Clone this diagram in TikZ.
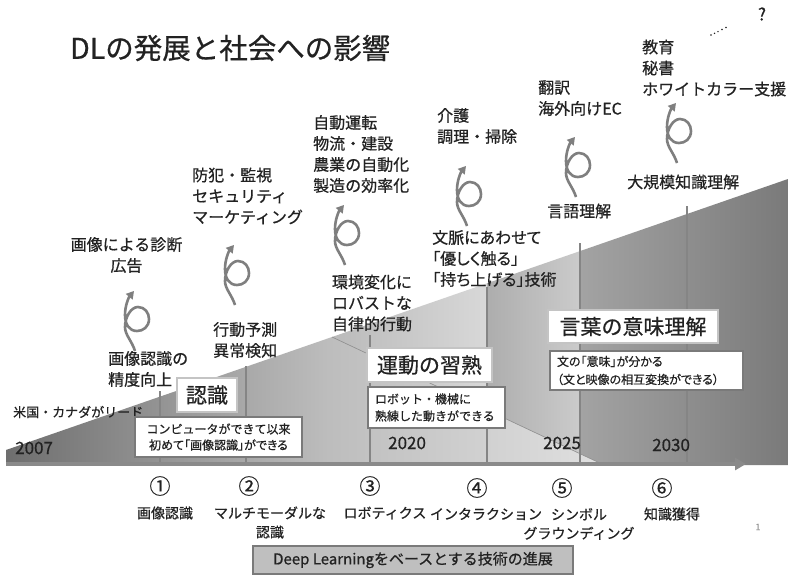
\documentclass[tikz,border=0pt]{standalone}
\usepackage{fontspec}
\setmainfont{Noto Sans CJK JP}[UprightFeatures={FakeBold=0.6}]
\newfontfamily\pfont{Noto Sans CJK JP}[RawFeature=+palt,UprightFeatures={FakeBold=0.6}]
\usetikzlibrary{arrows.meta}
\definecolor{txt}{HTML}{222222}
\definecolor{tickcol}{HTML}{858585}
\definecolor{axiscol}{HTML}{8A8A8A}
\definecolor{spircol}{HTML}{7F7F7F}
\definecolor{tboxcol}{HTML}{C4C4C4}
\definecolor{dboxcol}{HTML}{7A7A7A}
\definecolor{dlfill}{HTML}{BFBFBF}
\definecolor{edgecol}{HTML}{8C8C8C}
\definecolor{cAa}{HTML}{6E6E6E}
\definecolor{cAb}{HTML}{BDBDBD}
\definecolor{cAc}{HTML}{E0E0E0}
\definecolor{cBa}{HTML}{BABABA}
\definecolor{cBb}{HTML}{D8D8D8}
\definecolor{cCa}{HTML}{ADADAD}
\definecolor{cCb}{HTML}{CBCBCB}
\definecolor{cDa}{HTML}{A3A3A3}
\definecolor{cDb}{HTML}{7A7A7A}
\pgfdeclarehorizontalshading{shA}{100bp}{color(0bp)=(cAa); color(25bp)=(cAa); color(52bp)=(cAb); color(75bp)=(cAc); color(100bp)=(cAc)}
\pgfdeclarehorizontalshading{shB}{100bp}{color(0bp)=(cBa); color(25bp)=(cBa); color(75bp)=(cBb); color(100bp)=(cBb)}
\pgfdeclarehorizontalshading{shC}{100bp}{color(0bp)=(cCa); color(25bp)=(cCa); color(75bp)=(cCb); color(100bp)=(cCb)}
\pgfdeclarehorizontalshading{shD}{100bp}{color(0bp)=(cDa); color(25bp)=(cDa); color(75bp)=(cDb); color(100bp)=(cDb)}
\begin{document}
\begin{tikzpicture}[x=1pt,y=-1pt,
  lbl/.style={text=txt, inner sep=0pt},
  big/.style={lbl, font=\fontsize{16}{21}\selectfont},
  bot/.style={lbl, font=\fontsize{14}{19}\selectfont},
  num/.style={lbl, font=\fontsize{21}{22}\selectfont},
  yr/.style={lbl, font=\fontsize{17}{19}\selectfont, anchor=west},
  tbox/.style={draw=tboxcol, line width=2pt, fill=white, text=txt, inner sep=0pt, font=\fontsize{21}{24}\selectfont},
  dbox/.style={draw=dboxcol, line width=1.6pt, fill=white, text=txt, inner sep=0pt, font=\fontsize{12}{16}\selectfont},
  tickline/.style={draw=tickcol, line width=2pt},
  spir/.style={draw=spircol, line width=2.6pt, -{Triangle[length=7.5pt,width=8.5pt]}},
  spiral/.pic={\draw[spir] (2,60) .. controls (-1,50) and (-8,44) .. (-8,36) .. controls (-8,26) and (-2,16) .. (5,16) .. controls (12,16) and (16,22) .. (16,28) .. controls (16,36) and (10,40) .. (4,40) .. controls (-4,40) and (-8,33) .. (-8,24) .. controls (-8,14) and (-4,6) .. (1,0);}
]
\useasboundingbox (0,0) rectangle (788,576);
\fill[white] (0,0) rectangle (788,576);

% staged wedges
\path[shading=shD] (580,251.1) -- (788,179) -- (788,465) -- (580,465) -- cycle;
\path[shading=shC] (487,283.3) -- (580,251.1) -- (580,465) -- (487,465) -- cycle;
\path[shading=shB] (332,337) -- (487,283.3) -- (487,465) -- (332,465) -- cycle;
\path[shading=shA] (6,450) -- (332,337) -- (604,465) -- (6,465) -- cycle;
\draw[edgecol, line width=0.6pt] (332,337) -- (604,465);

% tick lines
\foreach \x/\t in {160/391, 246/366, 370/335, 487/287, 580/243, 687/206}
  \draw[tickline] (\x,\t) -- (\x,464);

% axis
\coordinate (ax0) at (6,464);
\coordinate (ax1) at (746,464);
\draw[axiscol, line width=3.5pt, -{Triangle[length=11pt,width=12pt]}] (ax0) -- (ax1);

% title
\node[lbl, anchor=west, font=\fontsize{28.5}{32}\selectfont] (title) at (70,48) {DLの発展と社会への影響};
\node[lbl, font=\fontsize{17}{18}\selectfont] (q) at (762,14) {?};
\foreach \px/\py in {711/35, 714.5/33.3, 718/31.6, 722/29.5, 726/27.5}
  \fill[txt] (\px,\py) circle[radius=0.8pt];

% upper labels
\node[big, align=center] (diag) at (126.5,255) {画像による診断\\広告};
\node[big, align=left, anchor=west] (sec) at (192,196) {防犯・監視\\セキュリティ\\マーケティング};
\node[big, align=left, anchor=west] (auto) at (313,154) {自動運転\\物流・建設\\農業の自動化\\製造の効率化};
\node[big, align=left, anchor=west] (care) at (437,126) {介護\\調理・掃除};
\node[big, align=left, anchor=west] (trans) at (538,98) {翻訳\\海外向けEC};
\node[big, align=left, anchor=west] (edu) at (642,68) {教育\\秘書\\ホワイトカラー支援};
\node[big, anchor=west] (kb) at (627,182) {大規模知識理解};
\node[big, anchor=west] (lang) at (547,211) {言語理解};
\node[big, align=left, anchor=west] (ctx) at (432,258.5) {\pfont 文脈にあわせて\\\pfont 「優しく触る」\\\pfont 「持ち上げる」技術};
\node[big, align=center] (env) at (372,303) {環境変化に\\ロバストな\\自律的行動};
\node[big, align=left, anchor=west] (pred) at (213,340) {行動予測\\異常検知};
\node[big, align=left, anchor=west] (acc) at (108,369) {画像認識の\\精度向上};
\node[lbl, font=\fontsize{13}{15}\selectfont, anchor=west] (lead) at (13,412) {米国・カナダがリード};

% spirals
\pic at (133,291) {spiral};
\pic at (233,245) {spiral};
\pic at (343,205) {spiral};
\pic at (465,166) {spiral};
\pic at (574,137) {spiral};
\pic at (675,103) {spiral};

% years
\node[yr] (y07) at (15,448) {2007};
\node[yr] (y20) at (388,443) {2020};
\node[yr] (y25) at (543,443) {2025};
\node[yr] (y30) at (652,445) {2030};

% boxes
\node[tbox, minimum width=60pt, minimum height=34pt] (b1) at (207,395) {認識};
\node[dbox, align=center, minimum width=167pt, minimum height=40pt] (d1) at (218.5,437) {コンピュータができて以来\\\pfont 初めて「画像認識」ができる};
\node[tbox, minimum width=125pt, minimum height=34pt] (b2) at (429.5,365) {運動の習熟};
\node[dbox, font=\fontsize{12}{17}\selectfont, text width=123pt, align=left, inner xsep=7pt, minimum height=41pt] (d2) at (436.5,407.5) {ロボット・機械に\\熟練した動きができる};
\node[tbox, minimum width=170pt, minimum height=33pt] (b3) at (633,326.5) {言葉の意味理解};
\node[dbox, font=\fontsize{12}{18}\selectfont, text width=179pt, align=left, inner xsep=7pt, minimum height=39pt] (d3) at (646.5,370.5) {\pfont 文の「意味」が分かる\\\pfont （文と映像の相互変換ができる）};

% bottom labels
\node[num] (n1) at (160,486) {①};
\node[num] (n2) at (249,486) {②};
\node[num] (n3) at (370,486) {③};
\node[num] (n4) at (477,488) {④};
\node[num] (n5) at (562,488) {⑤};
\node[num] (n6) at (662,488) {⑥};
\node[bot] (l1) at (165,513) {画像認識};
\node[bot, align=center] (l2) at (270,522.5) {マルチモーダルな\\認識};
\node[bot] (l3) at (385,513) {ロボティクス};
\node[bot] (l4) at (486,514) {インタラクション};
\node[bot, align=center] (l5) at (579,524) {シンボル\\グラウンディング};
\node[bot] (l6) at (672,514) {知識獲得};
\node[lbl, font=\fontsize{9}{10}\selectfont, text=black!40] (pg) at (758,527) {1};

\node[draw=dboxcol, fill=dlfill, line width=1.5pt, text=txt, inner sep=0pt, minimum width=320pt, minimum height=28pt, font=\fontsize{15}{17}\selectfont] (dl) at (413,560) {Deep Learningをベースとする技術の進展};
\end{tikzpicture}
\end{document}
